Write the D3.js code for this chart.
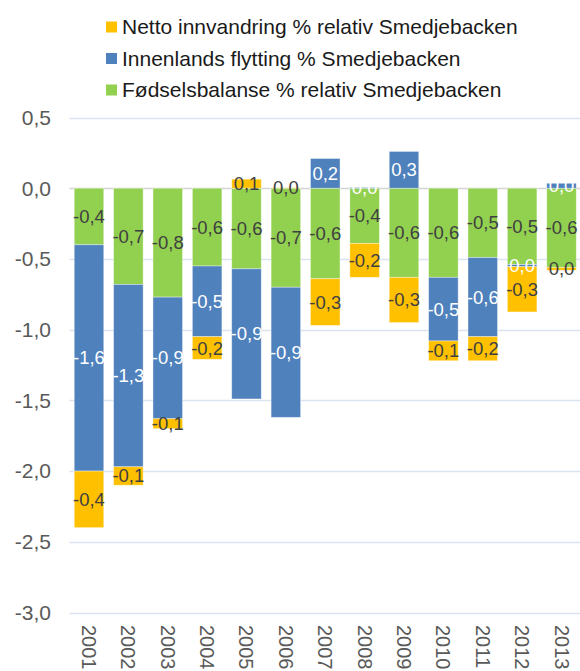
<html>
<head>
<script src="https://d3js.org/d3.v7.min.js"></script>
<style>
    body {margin: 0; background: white;}
    text {font-family: Arial, "Liberation Sans", sans-serif;}
</style>
</head>
<body>
<svg width=580 height=671></svg>

<script>
// chart data (values in %)
var years = ['2001','2002','2003','2004','2005','2006','2007','2008','2009','2010','2011','2012','2013'];
var fodsel = [-0.40, -0.68, -0.77, -0.55, -0.57, -0.70, -0.64, -0.39, -0.63, -0.63, -0.49, -0.54, -0.56];
var innenlands = [-1.60, -1.29, -0.86, -0.50, -0.92, -0.92, 0.21, 0.005, 0.26, -0.45, -0.56, -0.015, 0.035];
var netto = [-0.40, -0.13, -0.07, -0.16, 0.064, 0.003, -0.33, -0.24, -0.32, -0.14, -0.17, -0.32, -0.02];
var yTicks = [0.5, 0, -0.5, -1, -1.5, -2, -2.5, -3];
var seriesNames = {
    netto: 'Netto innvandring % relativ Smedjebacken',
    innenlands: 'Innenlands flytting % Smedjebacken',
    fodsel: 'Fødselsbalanse % relativ Smedjebacken'
};

var colors = {fodsel: '#92d050', innenlands: '#4f81bd', netto: '#ffc000'};
var labelColors = {fodsel: '#404040', innenlands: '#ffffff', netto: '#404040'};

// table for d3.stack
var table = years.map(function(y, i) {
    return {year: y, fodsel: fodsel[i], innenlands: innenlands[i], netto: netto[i]};
});
var keys = ['fodsel', 'innenlands', 'netto'];
var stacked = d3.stack().keys(keys).offset(d3.stackOffsetDiverging)(table);

var xs = d3.scaleBand().domain(years).range([69.5, 581]).paddingInner(0.25).paddingOuter(0.12);
var ys = d3.scaleLinear().domain([-3, 0.5]).range([612.5, 117.5]);

// norwegian style: comma decimals, plain hyphen minus
var locale = d3.formatLocale({decimal: ',', thousands: ' ', grouping: [3], currency: ['', ''], minus: '-'});
var f1 = locale.format('.1f');
function fmt(v) {
    if (Math.abs(v) < 0.05) return '0,0';
    return f1(v);
}

var svg = d3.select('svg');

// gridlines
svg.append('g')
    .selectAll('line')
    .data(yTicks)
    .enter()
    .append('line')
    .attr('x1', 69.5)
    .attr('x2', 583)
    .attr('y1', function(d) {return Math.round(ys(d)) + 0.5;})
    .attr('y2', function(d) {return Math.round(ys(d)) + 0.5;})
    .attr('stroke', function(d) {return d === 0 ? '#d4d4d4' : '#dae3f0';})
    .attr('stroke-width', 1.5);

// y tick labels
svg.append('g')
    .selectAll('text')
    .data(yTicks)
    .enter()
    .append('text')
    .attr('x', 51)
    .attr('y', function(d) {return ys(d);})
    .attr('dy', '0.35em')
    .style('text-anchor', 'end')
    .style('font-size', '21px')
    .style('fill', '#595959')
    .text(function(d) {return fmt(d);});

// bars
var groups = svg.append('g')
    .selectAll('g')
    .data(stacked)
    .enter()
    .append('g')
    .attr('fill', function(s) {return colors[s.key];});

groups.selectAll('rect')
    .data(function(s) {return s;})
    .enter()
    .append('rect')
    .attr('x', function(d) {return xs(d.data.year);})
    .attr('width', xs.bandwidth())
    .attr('y', function(d) {return ys(Math.max(d[0], d[1]));})
    .attr('height', function(d) {return Math.abs(ys(d[0]) - ys(d[1]));})
    .attr('stroke', '#ffffff')
    .attr('stroke-opacity', 0.5)
    .attr('stroke-width', 0.75);

// data labels
stacked.forEach(function(s) {
    svg.append('g')
        .selectAll('text')
        .data(s)
        .enter()
        .append('text')
        .attr('x', function(d) {return xs(d.data.year) + xs.bandwidth() / 2;})
        .attr('y', function(d) {return ys((d[0] + d[1]) / 2);})
        .attr('dy', '0.35em')
        .style('text-anchor', 'middle')
        .style('font-size', '18.5px')
        .style('fill', labelColors[s.key])
        .text(function(d) {return fmt(d.data[s.key]);});
});

// x axis labels (rotated)
svg.append('g')
    .selectAll('text')
    .data(years)
    .enter()
    .append('text')
    .attr('transform', function(d) {return 'translate(' + (xs(d) + xs.bandwidth() / 2) + ',625) rotate(90)';})
    .attr('dy', '0.35em')
    .style('text-anchor', 'start')
    .style('font-size', '20px')
    .style('fill', '#595959')
    .text(function(d) {return d;});

// legend
var legendKeys = ['netto', 'innenlands', 'fodsel'];
var legend = svg.append('g')
    .selectAll('g')
    .data(legendKeys)
    .enter()
    .append('g')
    .attr('transform', function(d, i) {return 'translate(106,' + (27 + i * 31.5) + ')';});

legend.append('rect')
    .attr('x', 0)
    .attr('y', -5.5)
    .attr('width', 11)
    .attr('height', 11)
    .attr('fill', function(d) {return colors[d];});

legend.append('text')
    .attr('x', 16)
    .attr('y', 0)
    .attr('dy', '0.35em')
    .style('font-size', '21px')
    .style('fill', '#1a1a1a')
    .text(function(d) {return seriesNames[d];});
</script>
</body>
</html>
